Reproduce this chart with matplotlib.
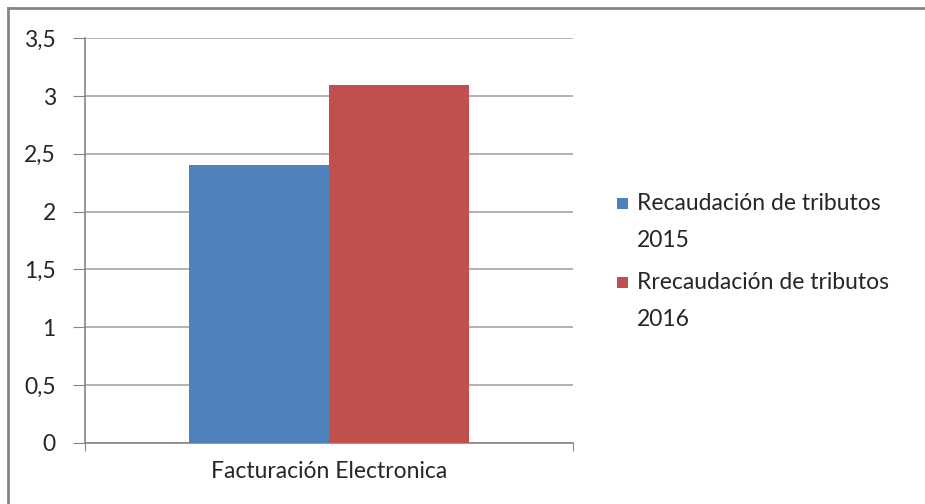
import matplotlib
matplotlib.use("Agg")
import matplotlib.pyplot as plt
from matplotlib.lines import Line2D
from matplotlib.patches import Rectangle
from matplotlib.ticker import FuncFormatter
import numpy as np

categories = ["Facturación Electronica"]
series_names = ["Recaudación de tributos\n2015", "Rrecaudación de tributos\n2016"]
values_2015 = [2.4]
values_2016 = [3.1]
colors = ["#4F81BD", "#C0504D"]

plt.rcParams['font.family'] = ['Lato', 'DejaVu Sans']
FS = 16.5
TXT = '#262626'

W, H = 925, 504
fig = plt.figure(figsize=(W/100, H/100), dpi=100)
ax = fig.add_axes([85/W, (H-442.7)/H, (573-85)/W, (442.7-38.3)/H])

x = np.arange(len(categories))
bw = 0.2865
ax.bar(x - bw/2, values_2015, bw, color=colors[0], zorder=3, label=series_names[0])
ax.bar(x + bw/2, values_2016, bw, color=colors[1], zorder=3, label=series_names[1])

ax.set_xlim(-0.5, 0.5)
ax.set_ylim(0, 3.5)
ax.set_yticks(np.arange(0, 3.51, 0.5))
ax.yaxis.set_major_formatter(FuncFormatter(lambda v, p: ("%g" % v).replace(".", ",")))
ax.grid(axis='y', color='#A6A6A6', linewidth=1.2, zorder=0)
ax.set_xticks([-0.5, 0.5])
ax.set_xticklabels(["", ""])
ax.tick_params(axis='x', length=6, color='#868686', direction='out')
ax.tick_params(axis='y', length=9, color='#868686', labelsize=FS, pad=12, labelcolor=TXT)
fig.text((85 + 573) / 2 / W, 1 - 471/H, categories[0], ha='center', va='center',
         fontsize=FS, color=TXT)
for s in ['top', 'right']:
    ax.spines[s].set_visible(False)
for s in ['left', 'bottom']:
    ax.spines[s].set_color('#868686')
    ax.spines[s].set_linewidth(1.2)

# legend drawn manually (square aligned with first line, Office-like spacing)
for i, (name, c) in enumerate(zip(series_names, colors)):
    y0 = 203.5 + i * 79
    fig.add_artist(Rectangle((617/W, 1 - (y0 + 5.5)/H), 11/W, 11/H,
                             transform=fig.transFigure, facecolor=c, edgecolor='none'))
    for j, line in enumerate(name.split("\n")):
        fig.text(637/W, 1 - (y0 + j*37)/H, line, ha='left', va='center',
                 fontsize=FS, color=TXT)

# outer chart border (top and left)
fig.add_artist(Line2D([8/W, 1], [1 - 8/H, 1 - 8/H], transform=fig.transFigure, color='#868686', linewidth=2))
fig.add_artist(Line2D([8/W, 8/W], [0, 1 - 8/H], transform=fig.transFigure, color='#868686', linewidth=2))

fig.savefig("out.png", dpi=100)
